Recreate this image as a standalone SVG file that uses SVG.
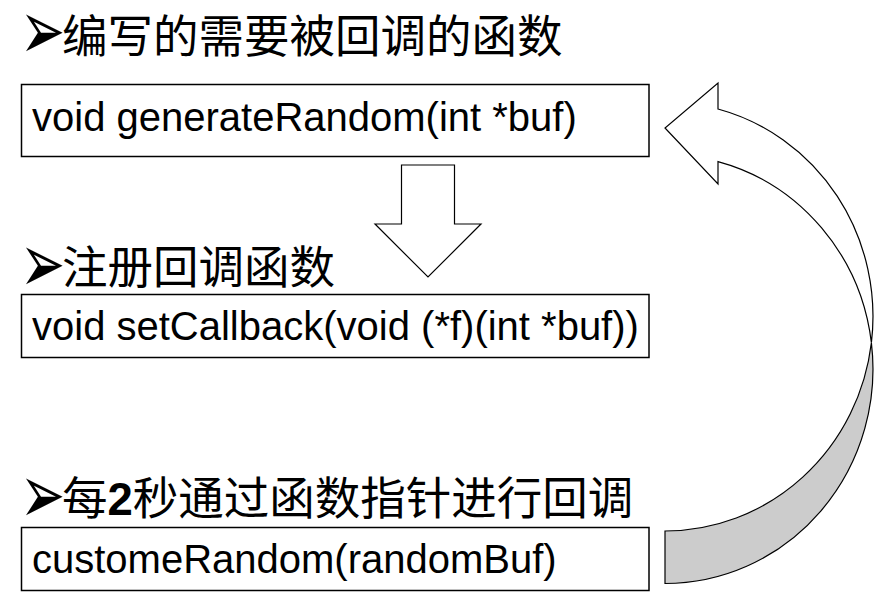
<svg xmlns="http://www.w3.org/2000/svg" width="889" height="599" viewBox="0 0 889 599">
<style>
.box{fill:#fff;stroke:#000;stroke-width:1.5}
.code{font-family:"Liberation Sans",Arial,sans-serif;font-size:40px;fill:#000}
.head{font-family:"Noto Sans CJK SC","Noto Sans CJK JP",sans-serif;font-size:45.5px;fill:#000}
.bul{font-family:"DejaVu Sans",sans-serif;font-size:54px;fill:#000}
.shape{stroke:#000;stroke-width:1.2;stroke-linejoin:miter}
</style>
<rect width="889" height="599" fill="#fff"/>
<g id="heading1">
<text class="bul" transform="translate(20,59) scale(1,1.55)">➢</text>
<text class="head" x="62" y="53">编写的需要被回调的函数</text>
</g>
<g id="node1">
<rect class="box" x="21.5" y="84.5" width="627.5" height="72"/>
<text class="code" x="32" y="131">void generateRandom(int *buf)</text>
</g>
<g id="heading2">
<text class="bul" transform="translate(20,292) scale(1,1.55)">➢</text>
<text class="head" x="62" y="284">注册回调函数</text>
</g>
<g id="node2">
<rect class="box" x="21.5" y="294.5" width="627.5" height="63"/>
<text class="code" x="32" y="340">void setCallback(void (*f)(int *buf))</text>
</g>
<g id="heading3">
<text class="bul" transform="translate(20,523) scale(1,1.55)">➢</text>
<text class="head" x="62" y="515" font-size="46">每<tspan font-family="Liberation Sans,Arial,sans-serif" font-weight="bold">2</tspan>秒通过函数指针进行回调</text>
</g>
<g id="node3">
<rect class="box" x="21.5" y="527.5" width="627.5" height="63"/>
<text class="code" x="32" y="573">customeRandom(randomBuf)</text>
</g>
<g id="connectors">
<polygon class="shape" fill="#fff" points="401.5,165 454.5,165 454.5,224 481,224 428,277 375,224 401.5,224"/>
<path class="shape" fill="#cccccc" d="M665,531 A208,214.5 0 0 0 871.4,342.75 A208,214.5 0 0 1 665,583.5 Z"/>
<path class="shape" fill="#fff" d="M718,109 A208,214.5 0 0 1 871.4,342.75 A208,214.5 0 0 0 718,161.6 L718,184 L665,128 L718,83 Z"/>
</g>
</svg>
